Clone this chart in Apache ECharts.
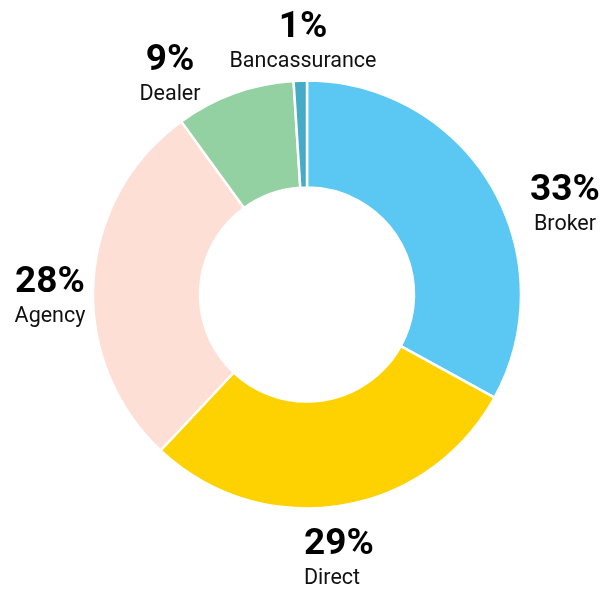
<!DOCTYPE html>
<html>
<head>
<meta charset="utf-8">
<script src="https://cdn.jsdelivr.net/npm/echarts@6/dist/echarts.min.js"></script>
<style>
  html, body { margin: 0; padding: 0; background: #fff; }
  #chart { width: 613px; height: 589px; }
</style>
</head>
<body>
<div id="chart"></div>
<script>
const channels = ['Broker', 'Direct', 'Agency', 'Dealer', 'Bancassurance']
const shares = [33, 29, 28, 9, 1]
const colors = ['#5bc8f4', '#fdd200', '#fddfd6', '#93d1a2', '#45abc6']

// label block centres (text only, not marks)
const labelSpots = [[565, 205], [304, 559], [50, 297], [170, 75], [303, 42]]

const richStyle = function (al) {
  return {
    p: { fontFamily: 'Roboto', fontSize: 37, fontWeight: 'bold', color: '#000', lineHeight: 40, align: al },
    n: { fontFamily: 'Roboto', fontSize: 21.5, color: '#111', lineHeight: 28, align: al }
  }
}

const myChart = echarts.init(document.getElementById('chart'))

const option = {
  animation: false,
  textStyle: { fontFamily: 'Roboto' },
  series: [{
    type: 'pie',
    center: [307, 294.5],
    radius: [107, 214],
    startAngle: 90,
    clockwise: true,
    data: channels.map((name, i) => ({
      name: name,
      value: shares[i],
      itemStyle: { color: colors[i] },
      label: { rich: richStyle(name === 'Direct' ? 'left' : 'center') }
    })),
    itemStyle: {
      borderColor: '#fff',
      borderWidth: 2.5
    },
    label: {
      show: true,
      position: 'outside',
      overflow: 'none',
      formatter: p => '{p|' + p.value + '%}\n{n|' + p.name + '}',
      rich: richStyle('center')
    },
    labelLine: { show: false },
    labelLayout: function (params) {
      const s = labelSpots[params.dataIndex]
      return {
        x: s[0], y: s[1],
        align: params.dataIndex === 1 ? 'left' : 'center',
        verticalAlign: 'middle'
      }
    }
  }]
}

myChart.setOption(option)
window.addEventListener('resize', function () {
  myChart.resize()
})
</script>
</body>
</html>
